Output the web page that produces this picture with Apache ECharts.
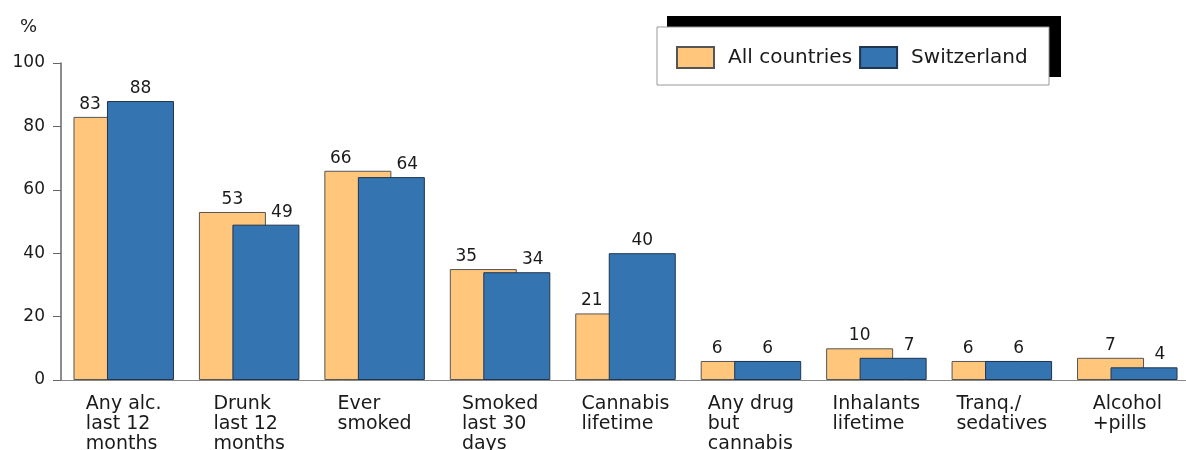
<!DOCTYPE html>
<html>
<head>
<meta charset="utf-8">
<script src="https://cdn.jsdelivr.net/npm/echarts@6/dist/echarts.min.js"></script>
<style>
html,body{margin:0;padding:0;background:#fff;}
#chart{width:1186px;height:450px;}
</style>
</head>
<body>
<div id="chart"></div>
<script>
const categories = [
  ["Any alc.", "last 12", "months"],
  ["Drunk", "last 12", "months"],
  ["Ever", "smoked"],
  ["Smoked", "last 30", "days"],
  ["Cannabis", "lifetime"],
  ["Any drug", "but", "cannabis"],
  ["Inhalants", "lifetime"],
  ["Tranq./", "sedatives"],
  ["Alcohol", "+pills"]
];
const allCountries = [83, 53, 66, 35, 21, 6, 10, 6, 7];
const switzerland = [88, 49, 64, 34, 40, 6, 7, 6, 4];
const seriesNames = ["All countries", "Switzerland"];
const yTicks = [0, 20, 40, 60, 80, 100];

const FONT = "DejaVu Sans, Verdana, sans-serif";
const chart = echarts.init(document.getElementById('chart'));

const catKeys = categories.map(c => c.join('\n'));

const orangeData = allCountries.map((v, i) => ({
  value: v,
  label: { offset: [(v - switzerland[i] >= 3) ? 0 : -17, 0] }
}));
const blueData = switzerland.map((v, i) => ({
  value: v,
  label: { offset: [(v < allCountries[i]) ? 16 : 0, 0] }
}));

const labelStyle = { show: true, position: 'top', distance: 4, color: '#1a1a1a', fontFamily: FONT, fontSize: 17 };

chart.setOption({
  animation: false,
  textStyle: { fontFamily: FONT },
  graphic: [
    { type: 'text', left: 20, top: 18, style: { text: '%', fontFamily: FONT, fontSize: 18, fill: '#1a1a1a' } },
    { type: 'rect', shape: { x: 667, y: 16, width: 394, height: 61 }, style: { fill: '#000' }, z: 10 },
    { type: 'rect', shape: { x: 657, y: 27, width: 392, height: 58 }, style: { fill: '#fff', stroke: '#999', lineWidth: 1 }, z: 11 }
  ],
  legend: {
    left: 671, top: 41, z: 20,
    itemWidth: 37, itemHeight: 21, itemGap: 7,
    icon: 'rect',
    textStyle: { fontFamily: FONT, fontSize: 20, color: '#1a1a1a', padding: [0, 0, 0, 9] },
    data: seriesNames
  },
  grid: { left: 61, right: -4, top: 63, bottom: 70, containLabel: false, outerBoundsMode: 'none' },
  xAxis: {
    type: 'category',
    data: catKeys,
    axisLine: { lineStyle: { color: '#888', width: 1 } },
    axisTick: { show: false },
    axisLabel: {
      margin: 14,
      interval: 0,
      formatter: (val) => val.split('\n').map(s => '{a|' + s + '}').join('\n'),
      rich: { a: { align: 'left', fontFamily: FONT, fontSize: 19, color: '#1a1a1a', lineHeight: 20 } }
    }
  },
  yAxis: {
    type: 'value',
    min: yTicks[0], max: yTicks[yTicks.length - 1], interval: 20,
    axisLine: { show: true, lineStyle: { color: '#666', width: 1.5 } },
    axisTick: { show: true, length: 8, lineStyle: { color: '#666' } },
    splitLine: { show: false },
    axisLabel: { fontFamily: FONT, fontSize: 17, color: '#1a1a1a', margin: 16 }
  },
  series: [
    {
      name: seriesNames[0], type: 'bar', data: orangeData,
      barWidth: 67, barGap: '-50%',
      itemStyle: { color: '#FFC67C', borderColor: '#555', borderWidth: 1 },
      label: labelStyle
    },
    {
      name: seriesNames[1], type: 'bar', data: blueData,
      barWidth: 67, barGap: '-50%',
      itemStyle: { color: '#3474B1', borderColor: '#1f3550', borderWidth: 1 },
      label: labelStyle
    }
  ]
});
</script>
</body>
</html>
